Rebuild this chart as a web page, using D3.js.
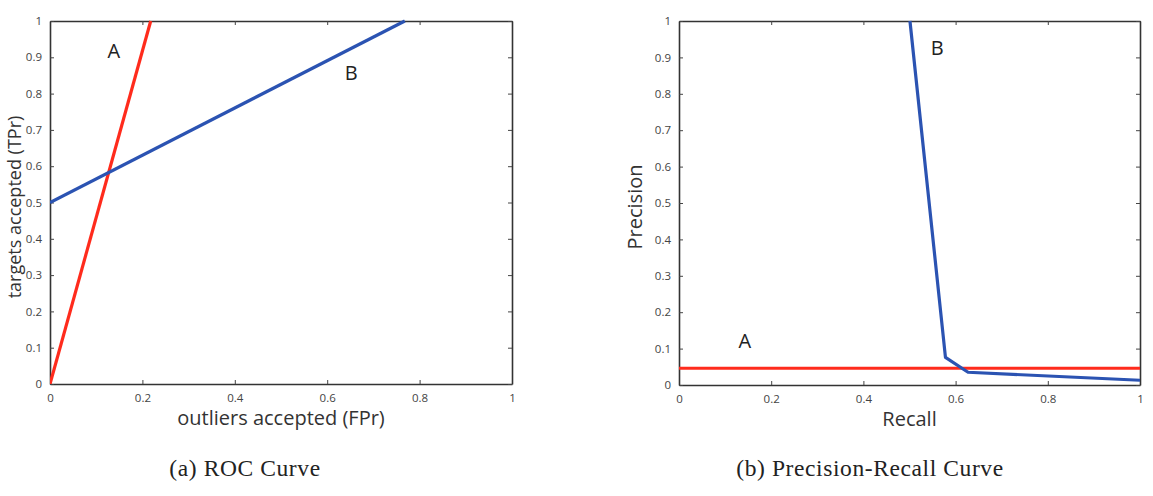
<!DOCTYPE html>
<html>
<head>
<meta charset="utf-8">
<script src="https://cdn.jsdelivr.net/npm/d3@7"></script>
<style>
  body { margin: 0; background: #fff; }
  .tick text { font-family: "Open Sans", sans-serif; font-size: 11.5px; fill: #444; }
  .axlabel { font-family: "Open Sans", sans-serif; font-size: 20px; fill: #333; }
  .mark { font-family: "Open Sans", sans-serif; font-size: 20px; fill: #222; }
  .caption { font-family: "Liberation Serif", serif; font-size: 23.5px; letter-spacing: 0.6px; fill: #222; }
</style>
</head>
<body>
<svg width="1153" height="496"></svg>
<script>
// ROC curve (left)
var rocA = [[0, 0], [0.218, 1]];
var rocB = [[0, 0.5], [0.768, 1]];
// Precision-recall curve (right)
var prA = [[0, 0.046], [1, 0.046]];
var prB = [[0.501, 1], [0.578, 0.076], [0.627, 0.035], [1, 0.013]];

var xTicks = [0, 0.2, 0.4, 0.6, 0.8, 1];
var yTicks = [0, 0.1, 0.2, 0.3, 0.4, 0.5, 0.6, 0.7, 0.8, 0.9, 1];

var red = "#ff2b1c", blue = "#2b53b2";
var svg = d3.select("svg");

function panel(box, o) {
  var x = d3.scaleLinear().domain([0, 1]).range([box.left, box.right]);
  var y = d3.scaleLinear().domain([0, 1]).range([box.bottom, box.top]);
  var g = svg.append("g");
  var fmt = d => d === 0 ? "0" : d === 1 ? "1" : d3.format(".1f")(d);

  g.append("g").attr("transform", "translate(0," + box.bottom + ")")
    .call(d3.axisBottom(x).tickValues(xTicks).tickFormat(fmt).tickSizeInner(-4).tickSizeOuter(0).tickPadding(10));
  g.append("g").attr("transform", "translate(0," + box.top + ")")
    .call(d3.axisTop(x).tickValues(xTicks).tickFormat("").tickSizeInner(-4).tickSizeOuter(0));
  g.append("g").attr("transform", "translate(" + box.left + ",0)")
    .call(d3.axisLeft(y).tickValues(yTicks).tickFormat(fmt).tickSizeInner(-4).tickSizeOuter(0).tickPadding(8));
  g.append("g").attr("transform", "translate(" + box.right + ",0)")
    .call(d3.axisRight(y).tickValues(yTicks).tickFormat("").tickSizeInner(-4).tickSizeOuter(0));
  g.selectAll(".domain").attr("stroke", "#333").attr("stroke-width", 1.6);
  g.selectAll(".tick line").attr("stroke", "#444");

  var line = d3.line().x(d => x(d[0])).y(d => y(d[1]));
  var clip = "clip" + o.id;
  svg.append("clipPath").attr("id", clip).append("rect")
    .attr("x", box.left).attr("y", box.top - 2)
    .attr("width", box.right - box.left).attr("height", box.bottom - box.top + 2);
  o.lines.forEach(function (l) {
    g.append("path").datum(l.data).attr("d", line)
      .attr("fill", "none").attr("stroke", l.color).attr("stroke-width", 3.2)
      .attr("stroke-linejoin", "round").attr("clip-path", "url(#" + clip + ")");
  });
  o.marks.forEach(function (m) {
    g.append("text").attr("class", "mark").attr("x", x(m[1])).attr("y", y(m[2]))
      .attr("text-anchor", "middle").attr("dominant-baseline", "middle").text(m[0]);
  });

  g.append("text").attr("class", "axlabel").attr("text-anchor", "middle")
    .attr("x", (box.left + box.right) / 2).attr("y", box.bottom + 41).text(o.xlabel);
  g.append("text").attr("class", "axlabel").attr("text-anchor", "middle")
    .style("font-size", o.ylabelSize)
    .attr("transform", "translate(" + (box.left + o.ylabelDx) + "," + o.ylabelY + ") rotate(-90)")
    .text(o.ylabel);
  g.append("text").attr("class", "caption").attr("text-anchor", "middle")
    .attr("x", o.captionX).attr("y", 476).text(o.caption);
}

panel({ left: 50, right: 512, top: 21, bottom: 384 }, {
  id: "a",
  lines: [{ data: rocA, color: red }, { data: rocB, color: blue }],
  marks: [["A", 0.138, 0.913], ["B", 0.652, 0.852]],
  xlabel: "outliers accepted (FPr)",
  ylabel: "targets accepted (TPr)",
  ylabelSize: "18px",
  ylabelDx: -29,
  ylabelY: 207,
  caption: "(a)  ROC Curve",
  captionX: 245
});

panel({ left: 679, right: 1140, top: 21, bottom: 385 }, {
  id: "b",
  lines: [{ data: prA, color: red }, { data: prB, color: blue }],
  marks: [["A", 0.143, 0.117], ["B", 0.56, 0.92]],
  xlabel: "Recall",
  ylabel: "Precision",
  ylabelSize: "20px",
  ylabelDx: -37,
  ylabelY: 207,
  caption: "(b)  Precision-Recall Curve",
  captionX: 870
});
</script>
</body>
</html>
